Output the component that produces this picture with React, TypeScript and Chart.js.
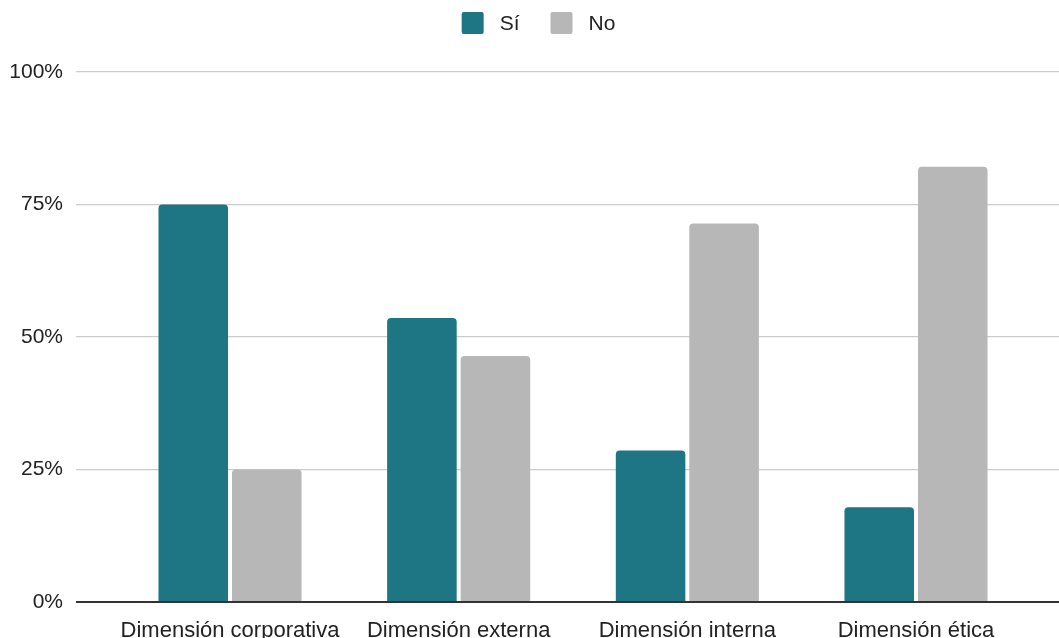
import React, { useEffect, useRef } from "react";
import { Chart, registerables } from "chart.js";

Chart.register(...registerables);

const categories = ["Dimensión corporativa", "Dimensión externa", "Dimensión interna", "Dimensión ética"];
const seriesNames = ["Sí", "No"];
const siValues = [75, 53.6, 28.6, 17.9];
const noValues = [25, 46.4, 71.4, 82.1];
const yTicks = [0, 25, 50, 75, 100];

const TEAL = "#1e7584";
const GREY = "#b7b7b7";
const FONT = "'Liberation Sans', Arial, sans-serif";
const TEXT = "#222222";

// Legend drawn across the top band: square swatch, label, then the next item
const topLegend = {
  id: "topLegend",
  afterDraw(chart: any) {
    const ctx = chart.ctx as CanvasRenderingContext2D;
    const box = 22;
    const gapText = 16;
    const gapItem = 31;
    const cy = 23;
    ctx.save();
    ctx.font = `21px ${FONT}`;
    ctx.textBaseline = "middle";
    ctx.textAlign = "left";
    const items = chart.data.datasets.map((ds: any) => ({
      label: ds.label as string,
      color: ds.backgroundColor as string,
      w: ctx.measureText(ds.label).width,
    }));
    const total = items.reduce((s: number, it: any, i: number) => s + box + gapText + it.w + (i > 0 ? gapItem : 0), 0);
    let x = (chart.width - total) / 2 + 9;
    items.forEach((it: any, i: number) => {
      if (i > 0) x += gapItem;
      ctx.fillStyle = it.color;
      ctx.beginPath();
      (ctx as any).roundRect(x, cy - box / 2, box, box, 2);
      ctx.fill();
      x += box + gapText;
      ctx.fillStyle = TEXT;
      ctx.fillText(it.label, x, cy + 1);
      x += it.w;
    });
    ctx.restore();
  },
};

export default function App() {
  const canvasRef = useRef<HTMLCanvasElement | null>(null);

  useEffect(() => {
    const canvas = canvasRef.current;
    if (!canvas) return;

    const chart = new Chart(canvas, {
      type: "bar",
      data: {
        datasets: [
          {
            label: seriesNames[0],
            data: siValues.map((v, i) => ({ x: i, y: v })),
            backgroundColor: TEAL,
            borderRadius: 4,
            borderSkipped: "start",
            categoryPercentage: 0.643,
            barPercentage: 0.946,
          },
          {
            label: seriesNames[1],
            data: noValues.map((v, i) => ({ x: i, y: v })),
            backgroundColor: GREY,
            borderRadius: 4,
            borderSkipped: "start",
            categoryPercentage: 0.643,
            barPercentage: 0.946,
          },
        ],
      },
      options: {
        responsive: false,
        animation: false,
        devicePixelRatio: 1,
        layout: { padding: { top: 72, left: 0, right: 0, bottom: 0 } },
        plugins: {
          legend: { display: false },
          tooltip: { enabled: false },
        },
        scales: {
          x: {
            type: "linear",
            min: -0.6735,
            max: 3.6254,
            offset: false,
            grid: { display: false },
            border: { display: false },
            afterBuildTicks(scale: any) {
              scale.ticks = categories.map((_, i) => ({ value: i }));
            },
            afterFit(scale: any) {
              scale.height = 36;
            },
            ticks: {
              autoSkip: false,
              maxRotation: 0,
              padding: 8,
              color: TEXT,
              font: { family: FONT, size: 22 },
              callback: (v: any) => categories[v as number] ?? "",
            },
          },
          y: {
            min: 0,
            max: 100,
            afterBuildTicks(scale: any) {
              scale.ticks = yTicks.map((v) => ({ value: v }));
            },
            afterFit(scale: any) {
              scale.width = 76;
            },
            border: { display: false },
            grid: {
              drawTicks: false,
              color: (ctx: any) => (ctx.tick && ctx.tick.value === 0 ? "#333333" : "#cccccc"),
              lineWidth: (ctx: any) => (ctx.tick && ctx.tick.value === 0 ? 2 : 1.3),
            },
            ticks: {
              padding: 13,
              color: TEXT,
              font: { family: FONT, size: 21 },
              callback: (v: any) => `${v}%`,
            },
          },
        },
      },
      plugins: [topLegend],
    });

    return () => chart.destroy();
  }, []);

  return (
    <div style={{ position: "absolute", left: 0, top: 0, width: 1059, height: 638, background: "#ffffff" }}>
      <canvas ref={canvasRef} width={1059} height={638} />
    </div>
  );
}
